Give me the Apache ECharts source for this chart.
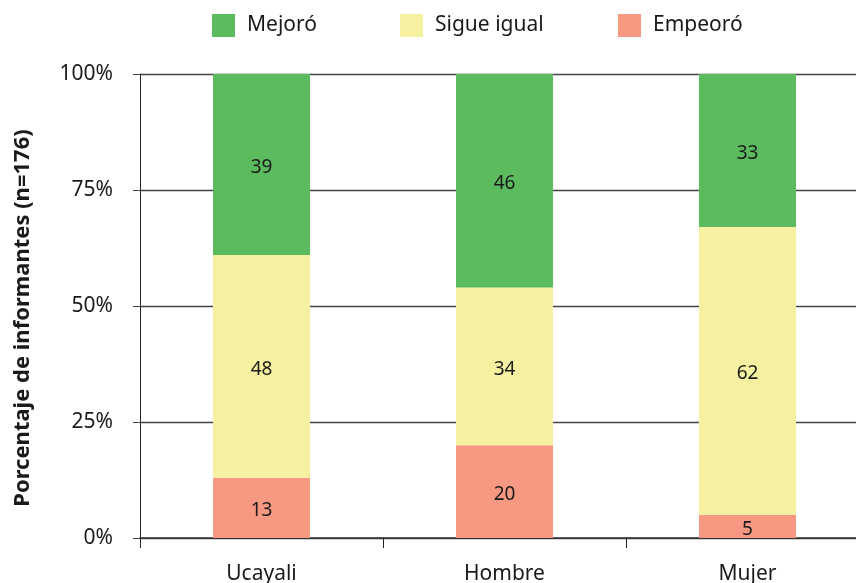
<!DOCTYPE html>
<html>
<head>
<meta charset="utf-8">
<script src="https://cdn.jsdelivr.net/npm/echarts@6/dist/echarts.min.js"></script>
<style>html,body{margin:0;padding:0;background:#fff;overflow:hidden;width:856px;height:583px}#c{width:870px;height:583px}</style>
</head>
<body>
<div id="c"></div>
<script>
const categories = ['Ucayali', 'Hombre', 'Mujer'];
const empeoro = [13, 20, 5];
const sigueIgual = [48, 34, 62];
const mejoro = [39, 46, 33];
const yTicks = [0, 25, 50, 75, 100];
const yTitle = 'Porcentaje de informantes (n=176)';
const legendNames = ['Mejoró', 'Sigue igual', 'Empeoró'];
const legendLefts = [212, 400, 618];

const FONT = '"Noto Sans", sans-serif';
const txt = '#1a1a1a';
const chart = echarts.init(document.getElementById('c'));

function seg(name, data, color) {
  return {
    name, type: 'bar', stack: 'total', data, barWidth: 97,
    itemStyle: { color },
    label: { show: true, position: 'inside', offset: [0, 3], color: txt, fontFamily: FONT, fontSize: 19 },
    emphasis: { disabled: true }
  };
}

chart.setOption({
  animation: false,
  textStyle: { fontFamily: FONT },
  legend: legendNames.map((n, i) => ({
    data: [n],
    left: legendLefts[i], top: 14, padding: 0,
    itemWidth: 23, itemHeight: 23, icon: 'rect',
    selectedMode: false,
    textStyle: { fontFamily: FONT, fontSize: 21, color: txt, padding: [0, 0, 0, 7] }
  })),
  grid: { left: 140, top: 74, bottom: 45, right: 1, containLabel: false, outerBoundsMode: 'none' },
  xAxis: {
    type: 'category', data: categories,
    axisLine: { show: true, lineStyle: { color: '#333', width: 1.5 } },
    axisTick: { show: true, length: 10, lineStyle: { color: '#222' } },
    axisLabel: { margin: 26, fontSize: 21, color: txt, fontFamily: FONT }
  },
  yAxis: {
    type: 'value', min: 0, max: 100, interval: 25,
    name: yTitle, nameLocation: 'middle', nameGap: 106,
    nameTextStyle: { fontFamily: FONT, fontSize: 22, fontWeight: 'bold', color: txt, padding: [0, 24, 0, 0] },
    axisLine: { show: true, onZero: false, lineStyle: { color: '#222', width: 1 } },
    axisTick: { show: true, length: 7, lineStyle: { color: '#444' } },
    axisLabel: {
      margin: 27, fontSize: 21, color: txt, fontFamily: FONT,
      formatter: v => yTicks.includes(v) ? v + '%' : ''
    },
    splitLine: { show: true, lineStyle: { color: '#444', width: 1.3 } }
  },
  series: [
    seg('Empeoró', empeoro, '#f69882'),
    seg('Sigue igual', sigueIgual, '#f5f1a1'),
    seg('Mejoró', mejoro, '#5cbb5f')
  ]
});
</script>
</body>
</html>
